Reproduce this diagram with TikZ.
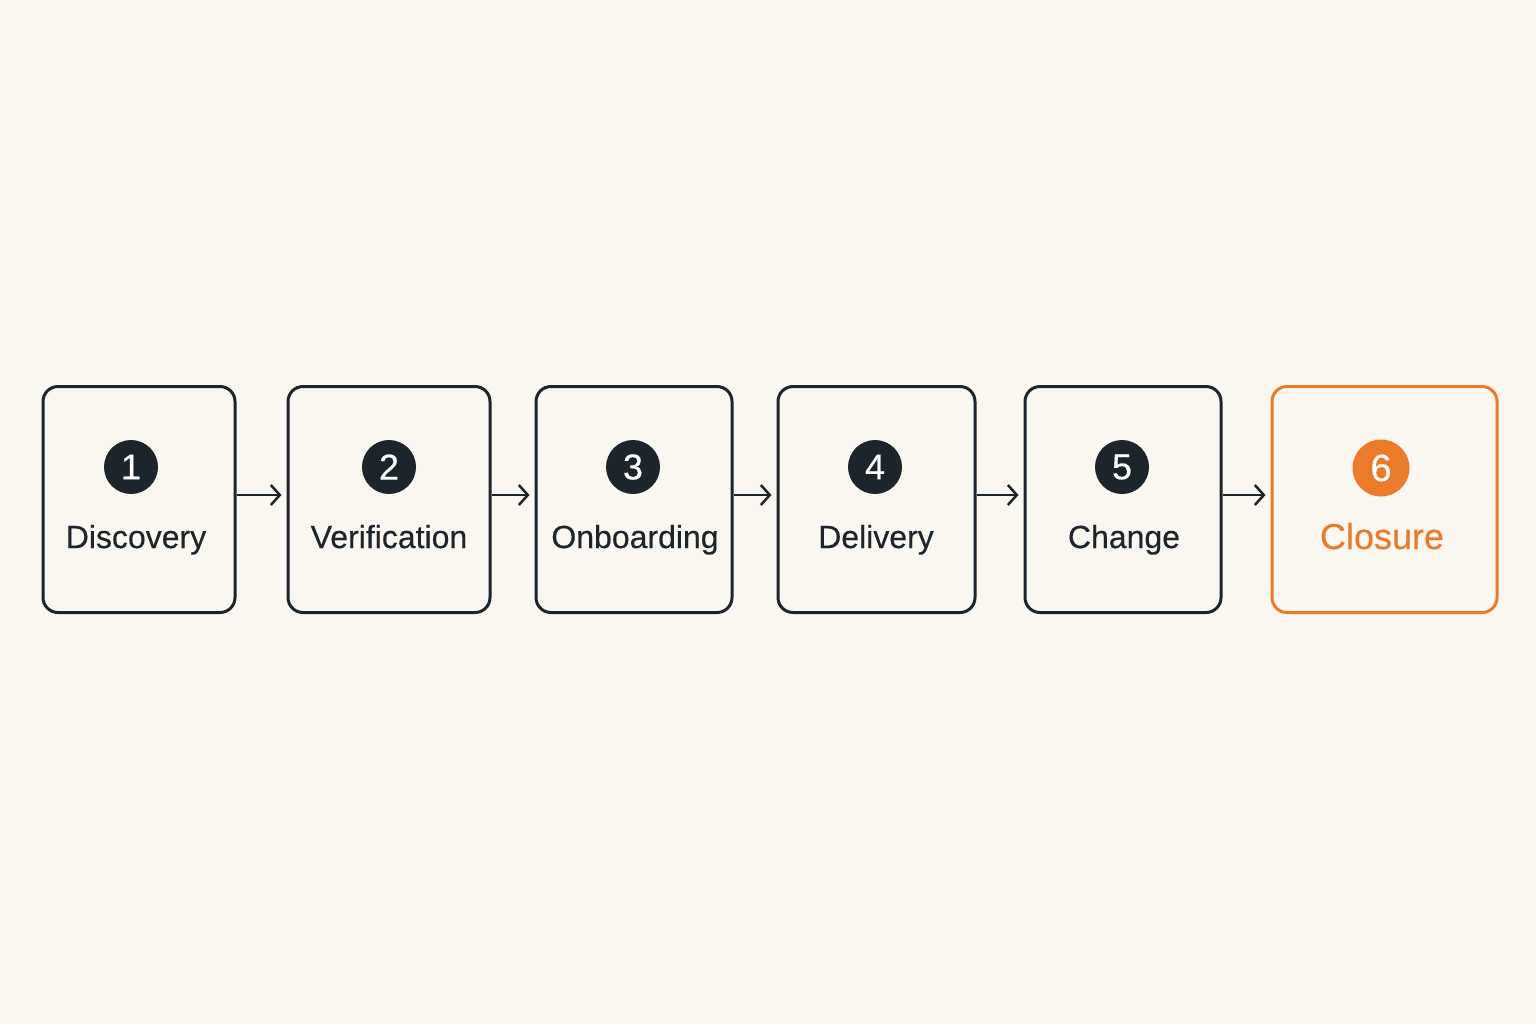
\documentclass[tikz,border=0pt]{standalone}
\usepackage{fontspec}
\setmainfont{Liberation Sans}[FakeBold=0.35]
\usetikzlibrary{arrows.meta}
\definecolor{ink}{HTML}{1B252B}
\definecolor{accent}{HTML}{EB7A2A}
\definecolor{paper}{HTML}{FAF7F1}
\tikzset{
  stage/.style={draw=ink, line width=1.5pt, rounded corners=7.5pt, minimum height=113pt},
  badge/.style={circle, fill=ink, text=white, minimum size=27pt, inner sep=0pt, font=\fontsize{18}{18}\selectfont},
  label/.style={text=ink, anchor=base, font=\fontsize{16}{18}\selectfont},
  flow/.style={draw=ink, line width=1.25pt, -{Straight Barb[length=4.5pt,width=10pt,line width=1.25pt]}}
}
\begin{document}
\begin{tikzpicture}[x=0.5pt,y=-0.5pt]
\fill[paper] (0,0) rectangle (1536,1024);
\useasboundingbox (0,0) rectangle (1536,1024);

\node[stage, minimum width=96pt] (s1) at (139,499.5) {};
\node[stage, minimum width=101pt] (s2) at (389,499.5) {};
\node[stage, minimum width=98pt] (s3) at (634,499.5) {};
\node[stage, minimum width=98.5pt] (s4) at (876.5,499.5) {};
\node[stage, minimum width=98pt] (s5) at (1123,499.5) {};
\node[stage, draw=accent, minimum width=112.5pt] (s6) at (1384.5,499.5) {};

\node[badge] (b1) at (131,467) {1};
\node[badge] (b2) at (389,467) {2};
\node[badge] (b3) at (633,467) {3};
\node[badge] (b4) at (875,467) {4};
\node[badge] (b5) at (1122,467) {5};
\node[badge, fill=accent, minimum size=28.5pt, font=\fontsize{19}{19}\selectfont] (b6) at (1381,468) {6};

\node[label] (l1) at (136,548) {Discovery};
\node[label] (l2) at (389,548) {Verification};
\node[label] (l3) at (635,548) {Onboarding};
\node[label] (l4) at (876,548) {Delivery};
\node[label] (l5) at (1124,548) {Change};
\node[label, text=accent, font=\fontsize{18}{20}\selectfont] (l6) at (1382,549) {Closure};

\draw[flow] (s1.east |- 0,495) -- ([xshift=-2.5pt]s2.west |- 0,495);
\draw[flow] (s2.east |- 0,495) -- ([xshift=-2.5pt]s3.west |- 0,495);
\draw[flow] (s3.east |- 0,495) -- ([xshift=-2.5pt]s4.west |- 0,495);
\draw[flow] (s4.east |- 0,495) -- ([xshift=-2.5pt]s5.west |- 0,495);
\draw[flow] (s5.east |- 0,495) -- ([xshift=-2.5pt]s6.west |- 0,495);
\end{tikzpicture}
\end{document}
